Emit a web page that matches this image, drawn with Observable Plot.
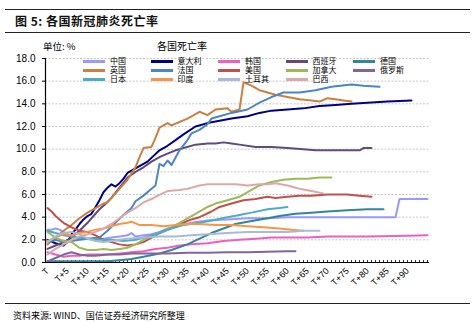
<!DOCTYPE html>
<html><head><meta charset="utf-8">
<script src="https://cdn.jsdelivr.net/npm/d3@7"></script>
<script src="https://cdn.jsdelivr.net/npm/@observablehq/plot@0.6"></script>
<style>
body{margin:0;background:#fff;}
#wrap{position:relative;width:475px;height:324px;overflow:hidden;background:#fff;font-family:"Noto Sans CJK SC","Liberation Sans",sans-serif;}
.abs{position:absolute;z-index:2;white-space:nowrap;}
.hr{position:absolute;left:5px;width:465px;height:0;border-top:1.5px solid #222;z-index:2;}
#chart{position:absolute;left:0;top:0;z-index:1;}
.lg{position:absolute;z-index:3;display:flex;align-items:center;height:9px;font-family:"Liberation Sans","Noto Sans CJK SC",sans-serif;font-size:8px;line-height:9px;color:#000;white-space:nowrap;}
.lg span.ln{display:inline-block;width:22px;height:3px;margin-right:5px;}
</style></head>
<body><div id="wrap">
<div class="hr" style="top:9px"></div>
<div class="abs" style="left:15px;top:13px;font-size:12px;font-weight:bold;line-height:16px;color:#111;letter-spacing:0.5px">图 5: 各国新冠肺炎死亡率</div>
<div class="hr" style="top:32px"></div>
<div class="abs" style="left:43px;top:40px;font-size:9.5px;line-height:12px">单位: %</div>
<div class="abs" style="left:157px;top:40px;font-size:10px;line-height:12px">各国死亡率</div>
<div id="chart"></div>
<div class="hr" style="top:303px"></div>
<div class="abs" style="left:13px;top:310px;font-size:9px;line-height:12px">资料来源: WIND、国信证券经济研究所整理</div>
</div>
<script>
const names = ["中国","意大利","韩国","西班牙","德国","英国","法国","美国","加拿大","俄罗斯","日本","印度","土耳其","巴西"];
const colors = ["#9999FF","#000080","#EE5FBF","#604A7B","#31859C","#CC7F3F","#4A86C8","#C0504D","#9BBB59","#8064A2","#4BACC6","#F79646","#A9BAD6","#DDA9A8"];
const tickDays = [0,5,10,15,20,25,30,35,40,45,50,55,60,65,70,75,80,85,90];
const yTicks = [0,2,4,6,8,10,12,14,16,18];
const days = d3.range(96);

const china = [[0,2.9],[1,2.9],[2,3.0],[3,2.9],[4,2.7],[5,2.5],[6,2.3],[7,2.2],[8,2.1],[10,2.1],[12,2.0],[14,2.1],[16,2.2],[18,2.3],[20,2.4],[21,2.6],[22,2.3],[24,2.4],[26,2.5],[28,2.7],[30,3.0],[33,3.3],[36,3.5],[40,3.7],[45,3.8],[50,3.9],[55,3.9],[60,4.0],[70,4.0],[80,4.0],[87,4.0],[88,5.6],[95,5.6]];
const italy = [[0,2.0],[2,1.7],[4,1.5],[5,1.8],[6,2.5],[7,2.9],[8,3.4],[9,3.8],[10,4.1],[11,4.3],[12,4.9],[13,5.5],[14,6.2],[15,6.6],[16,6.9],[17,6.7],[18,7.0],[19,7.4],[20,7.9],[22,8.3],[25,8.9],[28,9.9],[30,10.3],[32,10.8],[34,11.3],[37,12.0],[40,12.3],[43,12.5],[46,12.7],[50,12.9],[53,13.2],[56,13.4],[60,13.5],[64,13.6],[68,13.8],[72,13.9],[76,14.0],[80,14.1],[85,14.2],[91,14.3]];
const korea = [[0,0.9],[2,0.7],[4,0.5],[6,0.6],[8,0.6],[10,0.7],[12,0.7],[15,0.7],[18,0.8],[21,0.9],[24,1.0],[27,1.2],[30,1.3],[33,1.5],[36,1.6],[40,1.7],[44,1.9],[48,2.0],[52,2.1],[56,2.2],[60,2.2],[65,2.2],[70,2.3],[80,2.3],[90,2.35],[95,2.4]];
const spain = [[0,1.2],[2,1.5],[4,1.8],[6,2.2],[8,2.8],[10,3.5],[12,4.3],[13,4.7],[14,5.0],[16,5.7],[18,6.6],[20,7.5],[22,8.0],[24,8.4],[26,8.9],[28,9.3],[30,9.6],[32,9.9],[34,10.1],[37,10.4],[40,10.5],[42,10.5],[44,10.6],[46,10.5],[48,10.4],[52,10.2],[56,10.2],[60,10.1],[64,10.0],[67,9.9],[72,9.9],[78,9.9],[79,10.1],[81,10.1]];
const germany = [[0,0.1],[5,0.1],[10,0.1],[15,0.1],[18,0.2],[21,0.3],[24,0.5],[28,0.8],[31,1.1],[35,1.6],[38,2.1],[41,2.6],[44,3.0],[47,3.4],[50,3.6],[55,3.9],[58,4.1],[62,4.3],[66,4.4],[70,4.5],[75,4.6],[80,4.7],[84,4.7]];
const uk = [[0,1.6],[2,2.2],[4,2.8],[6,3.3],[8,3.9],[10,4.4],[12,4.8],[14,5.2],[15,5.3],[16,5.7],[18,6.5],[20,7.3],[22,8.4],[23,9.3],[24,10.1],[26,10.2],[27,11.0],[28,11.9],[30,12.3],[31,12.1],[33,12.4],[35,12.7],[38,13.3],[40,13.0],[42,13.5],[45,13.6],[46,13.3],[48,13.5],[49,15.9],[51,15.6],[53,15.2],[55,15.0],[57,14.8],[60,14.6],[63,14.4],[66,14.3],[68,14.2],[70,14.5],[72,14.4],[74,14.3],[76,14.2]];
const france = [[0,1.8],[2,2.0],[4,1.8],[6,1.9],[8,2.0],[10,2.1],[13,2.2],[15,2.8],[17,3.5],[19,4.2],[21,4.8],[22,5.4],[24,5.9],[26,6.5],[27,6.8],[28,8.7],[29,8.5],[30,9.0],[31,8.6],[33,9.9],[35,10.8],[36,11.4],[38,11.7],[40,12.2],[41,12.7],[43,12.9],[46,13.2],[50,13.5],[53,14.1],[56,14.6],[59,15.0],[63,15.0],[67,15.2],[71,15.5],[76,15.7],[79,15.6],[83,15.5]];
const usa = [[0,4.8],[1,4.5],[2,4.1],[3,3.8],[4,3.5],[6,3.1],[8,2.8],[10,2.7],[12,2.4],[14,2.0],[16,1.8],[18,1.6],[20,1.5],[22,1.6],[24,1.8],[26,2.2],[28,2.6],[30,2.9],[33,3.4],[36,3.8],[38,4.0],[41,4.5],[43,4.9],[46,5.2],[49,5.5],[52,5.6],[55,5.8],[57,5.7],[60,5.8],[63,5.9],[66,5.9],[70,6.0],[75,6.0],[78,5.9],[81,5.8]];
const canada = [[0,2.7],[2,2.2],[4,1.9],[6,1.8],[8,1.3],[10,1.1],[12,1.1],[14,1.2],[16,1.1],[18,1.2],[20,1.3],[22,1.6],[24,2.0],[26,2.3],[28,2.6],[31,3.1],[34,3.7],[37,4.3],[40,4.9],[42,5.2],[45,5.5],[48,5.8],[51,6.4],[53,6.8],[56,7.1],[59,7.3],[62,7.4],[65,7.4],[68,7.5],[71,7.5]];
const russia = [[0,0.1],[2,0.4],[4,0.7],[6,0.9],[8,0.7],[10,0.6],[12,0.6],[15,0.7],[18,0.7],[21,0.8],[25,0.8],[30,0.8],[35,0.85],[40,0.85],[45,0.9],[50,0.9],[55,0.95],[60,1.0],[62,1.0]];
const japan = [[0,2.8],[2,2.6],[4,2.4],[6,2.3],[8,2.2],[10,2.1],[13,2.0],[16,2.0],[19,1.9],[22,2.0],[25,2.3],[28,2.6],[31,3.0],[34,3.3],[38,3.5],[41,3.7],[45,4.0],[48,4.2],[51,4.4],[55,4.7],[58,4.8],[60,4.9]];
const india = [[0,1.9],[2,2.2],[4,2.5],[6,2.4],[8,2.6],[10,2.7],[12,2.9],[14,3.0],[16,3.2],[18,3.4],[20,3.5],[21,3.6],[23,3.3],[26,3.3],[29,3.2],[32,3.3],[35,3.4],[38,3.4],[42,3.3],[46,3.3],[50,3.2],[54,3.1],[58,3.0],[61,2.9],[64,2.8]];
const turkey = [[0,1.8],[2,2.3],[4,2.6],[6,2.7],[8,2.5],[10,2.1],[12,1.9],[14,1.8],[16,1.9],[18,2.0],[20,2.1],[24,2.2],[28,2.3],[32,2.3],[36,2.4],[40,2.5],[45,2.6],[50,2.7],[60,2.7],[64,2.8],[68,2.8]];
const brazil = [[0,0.7],[2,1.2],[4,1.6],[6,2.0],[8,2.3],[10,2.5],[12,2.7],[14,3.0],[16,3.4],[18,3.9],[20,4.4],[22,4.8],[24,5.3],[26,5.6],[27,5.8],[30,6.3],[33,6.4],[35,6.5],[38,6.8],[40,6.9],[44,6.9],[47,6.9],[50,6.8],[53,6.9],[55,6.9],[57,7.0],[60,6.8],[63,6.5],[66,6.3],[69,6.1]];

const seriesList = [china, italy, korea, spain, germany, uk, france, usa, canada, russia, japan, india, turkey, brazil];
const rows = seriesList.flatMap((s, i) => s.map(([day, v]) => ({day, v, name: names[i]})));

const chart = Plot.plot({
  width: 475, height: 300,
  marginLeft: 45, marginRight: 46, marginTop: 58, marginBottom: 38,
  x: {domain: [-0.5, 95.5], label: null},
  y: {domain: [0, 18], label: null},
  color: {domain: names, range: colors},
  style: {fontFamily: "'Liberation Sans', Arial, sans-serif", fontSize: "10px", background: "transparent", overflow: "visible", color: "#000"},
  marks: [
    Plot.gridY(yTicks.filter(d => d > 0), {stroke: "#b8b8b8", strokeOpacity: 1, strokeDasharray: "2,1.5", strokeWidth: 0.8}),
    Plot.axisY(yTicks, {tickSize: 3, tickPadding: 7, tickFormat: d => d.toFixed(1), fontSize: 10, label: null}),
    Plot.axisX(tickDays, {tickSize: 0, tickPadding: 7, tickRotate: -45, tickFormat: d => d === 0 ? "T" : "T+" + d, fontSize: 9, label: null}),
    Plot.tickX(days, {x: d => d, insetTop: 202, stroke: "#000", strokeWidth: 0.8}),
    Plot.line(rows, {x: "day", y: "v", z: "name", stroke: "name", strokeWidth: 2}),
    Plot.ruleY([0], {stroke: "#000", strokeWidth: 1.2}),
    Plot.ruleX([-0.5], {stroke: "#000", strokeWidth: 1.2})
  ]
});
document.getElementById("chart").append(chart);

const wrap = document.getElementById("wrap");
names.forEach((n, i) => {
  const col = i % 5, row = Math.floor(i / 5);
  const d = document.createElement("div");
  d.className = "lg";
  d.style.left = (83 + col * 67.5) + "px";
  d.style.top = (56.5 + row * 9) + "px";
  d.innerHTML = `<span class="ln" style="background:${colors[i]}"></span><span>${n}</span>`;
  wrap.append(d);
});
</script>
</body></html>
